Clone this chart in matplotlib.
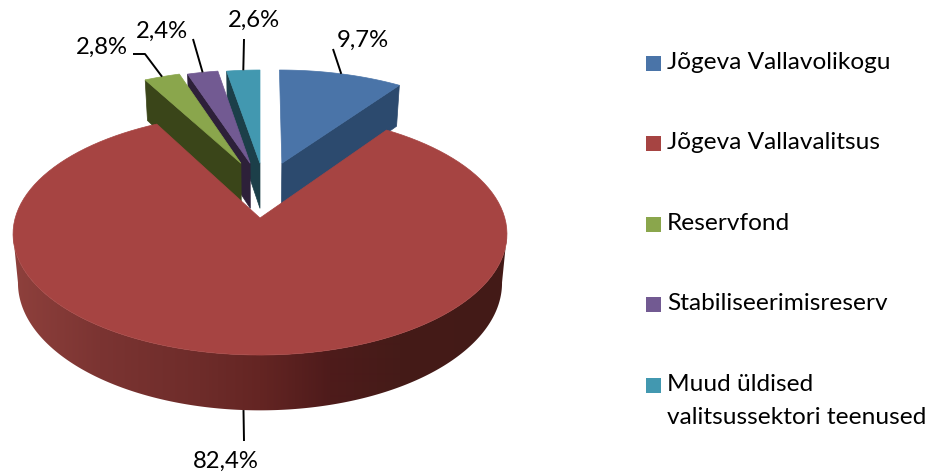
import numpy as np
import matplotlib
matplotlib.use('Agg')
import matplotlib.pyplot as plt
from matplotlib.colors import to_rgb
from matplotlib.patches import Polygon, Rectangle

# data
names = ['Jõgeva Vallavolikogu', 'Jõgeva Vallavalitsus', 'Reservfond', 'Stabiliseerimisreserv',
         'Muud üldised\nvalitsussektori teenused']
shares = [9.7, 82.4, 2.8, 2.4, 2.6]

# colours
top_colors = ['#4a74a8', '#a64442', '#8aa64c', '#725a92', '#4298b0']
wall_colors = ['#2c4a6e', '#6a2826', '#3a4519', '#2d2039', '#1c3f49']
side_stops_x = [14, 100, 200, 260, 330, 400, 507]
side_stops = ['#8e403c', '#7b3432', '#6e2c2a', '#642523', '#4e1b1b', '#451b18', '#431a17']

# slice offsets away from the pie centre (pie radius = 1)
explode_x = [0.095, 0.0, -0.083, -0.043, 0.0]
explode_y = [0.49, 0.0, 0.49, 0.49, 0.49]

# label centres and leader ends, in pixels
label_xy = [(363, 40), (226, 461), (102, 47), (162, 31), (254, 20)]
leader_end = [(333, 49), (244, 441), (145, 54), (193, 39), (244, 39)]
legend_y = [62.5, 142.5, 223.5, 303.5, 384.5]

# perspective of the pie, fitted to the picture
cx, cy = 260.0, 218.0
A, B, P = 244.8, 118.9, 0.1323
DEPTH = 48.0
BASE_SHRINK = 0.98

plt.rcParams['font.family'] = ['Lato', 'DejaVu Sans']


def project(x, y, low=False):
    x, y = np.asarray(x, float), np.asarray(y, float)
    w = 1 + P * y
    sx = cx + A * x / w
    sy = cy - B * y / w
    if low:
        sx = cx + (sx - cx) * BASE_SHRINK
        sy = sy + DEPTH / w
    return sx, sy


def rim(angle, i):
    a = np.radians(angle)
    return explode_x[i] + np.sin(a), explode_y[i] + np.cos(a)


fig = plt.figure(figsize=(9.31, 4.76), dpi=100)
ax = fig.add_axes([0, 0, 1, 1])
ax.axis('off')

edges = np.cumsum([0] + shares) / sum(shares) * 360
starts, ends = edges[:-1], edges[1:]


def draw_wall(i, angle):
    # radial cut wall from the apex to the rim
    rx, ry = rim(angle, i)
    ax_, ay_ = explode_x[i], explode_y[i]
    pts = [project(ax_, ay_), project(rx, ry), project(rx, ry, True), project(ax_, ay_, True)]
    ax.add_patch(Polygon(pts, closed=True, fc=wall_colors[i], ec=wall_colors[i], lw=0.5, zorder=1))


def draw_top(i):
    t = np.linspace(starts[i], ends[i], 120)
    rx, ry = rim(t, i)
    sx, sy = project(rx, ry)
    ax0, ay0 = project(explode_x[i], explode_y[i])
    pts = np.column_stack([np.r_[ax0, sx], np.r_[ay0, sy]])
    ax.add_patch(Polygon(pts, closed=True, fc=top_colors[i], ec=top_colors[i], lw=0.5, zorder=1))


# small slices, each one overlaps the wall of the one before
draw_wall(4, starts[4])
draw_top(4)
draw_wall(3, starts[3])
draw_top(3)
draw_wall(2, starts[2])
draw_top(2)
draw_wall(0, ends[0])
draw_top(0)

# outer wall of the big slice: horizontal gradient clipped to the band
# the band runs between the widest points of the rim
t = np.linspace(starts[1], ends[1], 600)
rx, ry = rim(t, 1)
top_x, top_y = project(rx, ry)
t = t[np.argmax(top_x):np.argmin(top_x) + 1]
rx, ry = rim(t, 1)
top_x, top_y = project(rx, ry)
low_x, low_y = project(rx, ry, True)
band = Polygon(np.column_stack([np.r_[top_x, low_x[::-1]], np.r_[top_y, low_y[::-1]]]),
               closed=True, fc='none', ec='none', transform=ax.transData)
ax.add_patch(band)
grad_x = np.arange(0, 531)
stops_rgb = np.array([to_rgb(c) for c in side_stops])
grad = np.stack([np.interp(grad_x, side_stops_x, stops_rgb[:, k]) for k in range(3)], axis=1)[None, :, :]
img = ax.imshow(grad, extent=(0, 531, 476, 0), aspect='auto', zorder=1, interpolation='bilinear')
img.set_clip_path(band)
draw_top(1)

# data labels and leaders
for i, v in enumerate(shares):
    mid = (starts[i] + ends[i]) / 2
    rx, ry = rim(mid, i)
    sx, sy = project(rx, ry, low=(i == 1))
    ex, ey = leader_end[i]
    if i == 2:
        # this one has an elbow
        ax.plot([sx, ex, ex - 12], [sy, ey, ey], color='black', lw=1.4, solid_capstyle='butt', zorder=2)
    else:
        ax.plot([sx, ex], [sy, ey], color='black', lw=1.4, solid_capstyle='butt', zorder=2)
    lx, ly = label_xy[i]
    ax.text(lx, ly, f'{v:.1f}'.replace('.', ',') + '%', ha='center', va='center', fontsize=17.2, color='black')

# legend
for i, name in enumerate(names):
    y = legend_y[i]
    ax.add_patch(Rectangle((646, y - 6.5), 15, 15, fc=top_colors[i], ec='none'))
    lines = name.split('\n')
    for k, line in enumerate(lines):
        ax.text(667, y + k * 33, line, ha='left', va='center', fontsize=17.6, color='black')

ax.set_xlim(0, 931)
ax.set_ylim(476, 0)
fig.savefig('out.png', dpi=100)
